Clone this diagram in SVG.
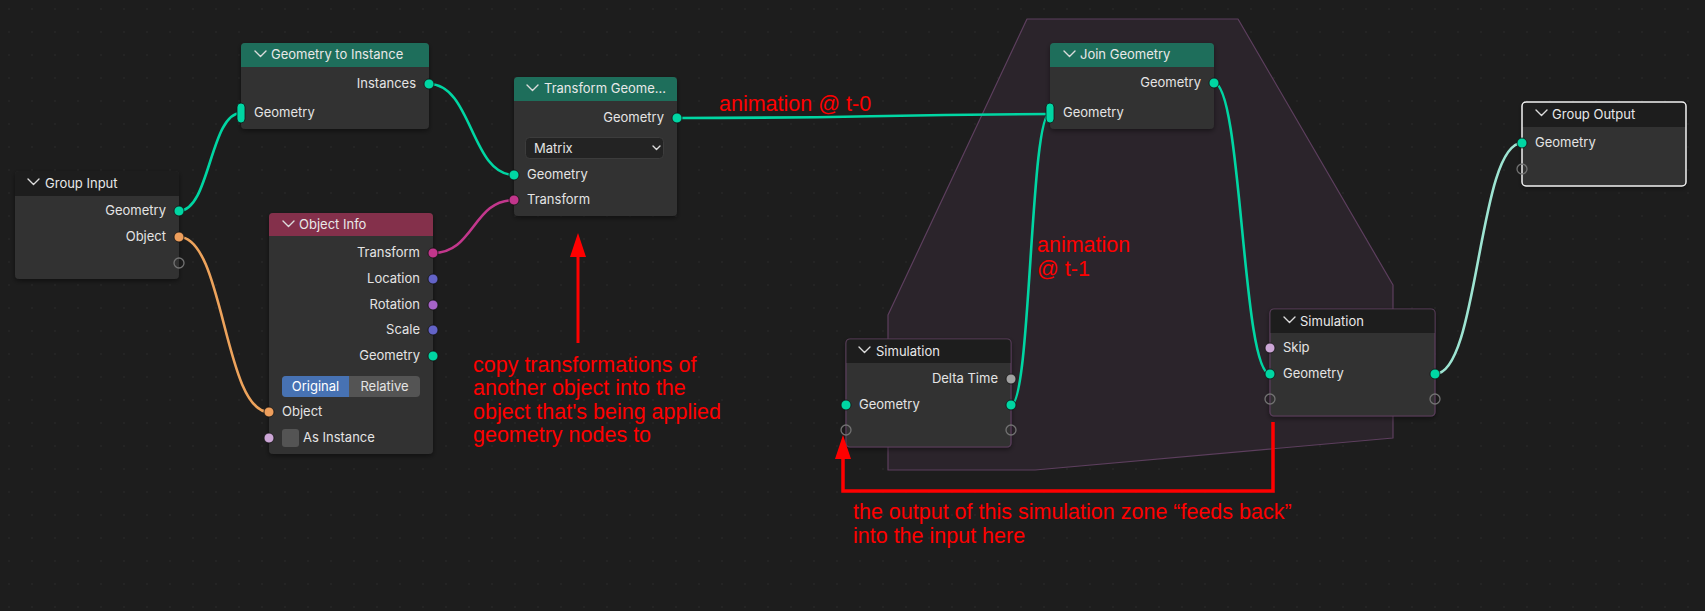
<svg xmlns="http://www.w3.org/2000/svg" width="1705" height="611" viewBox="0 0 1705 611">
<defs>
<pattern id="grid" x="8" y="8" width="23" height="23" patternUnits="userSpaceOnUse">
<circle cx="1" cy="1" r="0.9" fill="#262626"/>
</pattern>
<filter id="sh" x="-10%" y="-10%" width="120%" height="130%">
<feDropShadow dx="0" dy="2" stdDeviation="2.5" flood-color="#000" flood-opacity="0.45"/>
</filter>
</defs>
<style>
.bg{fill:#1d1d1d}
.body{fill:#303030}
.hdark{fill:#1d1d1d}
.hgeo{fill:#1e6e5b}
.hinp{fill:#84304b}
.t{font-family:Inter,"Noto Sans","DejaVu Sans",sans-serif;font-size:13px;fill:#e4e4e4}
.tr{text-anchor:end}
.ht{font-family:Inter,"Noto Sans","DejaVu Sans",sans-serif;font-size:13px;fill:#e8e8e8}
.chev{fill:none;stroke:#dcdcdc;stroke-width:1.4;stroke-linecap:round;stroke-linejoin:round}
.sk{stroke:#111;stroke-width:0.8}
.geo{fill:#00d6a3}
.obj{fill:#ed9e5c}
.mat{fill:#c2368c}
.vec{fill:#6363c7}
.rot{fill:#a663c7}
.bool{fill:#cca6d6}
.flt{fill:#a1a1a1}
.empty{fill:none;stroke:#727272;stroke-width:1.3}
.link{fill:none;stroke-width:2.6;stroke-linecap:round}
.red{font-family:"Liberation Sans",Arial,sans-serif;font-size:21.5px;fill:#ff0000}
.zone{stroke:#5d3f5e;stroke-width:1.2}
</style>
<rect class="bg" x="0" y="0" width="1705" height="611"/>
<rect x="0" y="0" width="1705" height="611" fill="url(#grid)"/>

<!-- simulation zone frame -->
<polygon id="zone" points="1027,19 1238,19 1393,285 1393,438 1035,470 888,470 888,315" fill="#2b242b" stroke="#5d3f5e" stroke-width="1.2" stroke-linejoin="round"/>

<!-- connectors -->
<g id="connectors">
<path class="link" stroke="#00d6a3" d="M179,211 C210,211 210,113 241,113"/>
<path class="link" stroke="#eda35c" d="M179,237 C224,237 224,412 269,412"/>
<path class="link" stroke="#00d6a3" d="M429,84 C472,84 471,175 514,175"/>
<path class="link" stroke="#c2378c" d="M433,253 C474,253 473,200 514,200"/>
<path class="link" stroke="#00d6a3" d="M677,118 C860,118 860,115 1050,114"/>
<path class="link" stroke="#00d6a3" d="M1011,405 C1031,405 1030,113 1050,113"/>
<path class="link" stroke="#00d6a3" d="M1214,83 C1242,83 1242,374 1270,374"/>
<path class="link" stroke="#9de4d2" d="M1435,374 C1479,374 1478,143 1522,143"/>
</g>

<!-- Group Input -->
<g id="group-input">
<rect x="15" y="171" width="164" height="108" rx="4" class="body" filter="url(#sh)"/>
<path d="M15,196 V175 a4,4 0 0 1 4,-4 H175 a4,4 0 0 1 4,4 V196 Z" class="hdark"/>
<polyline class="chev" points="28,179 33.5,184.5 39,179"/>
<text class="ht" x="45" y="188">Group Input</text>
<text class="t tr" x="166" y="215">Geometry</text>
<text class="t tr" x="166" y="241">Object</text>
<circle cx="179" cy="211" r="5" class="geo sk"/>
<circle cx="179" cy="237" r="5" class="obj sk"/>
<circle cx="179" cy="263" r="5" class="empty"/>
</g>

<!-- Geometry to Instance -->
<g id="geometry-to-instance">
<rect x="241" y="43" width="188" height="86" rx="4" class="body" filter="url(#sh)"/>
<path d="M241,67 V47 a4,4 0 0 1 4,-4 H425 a4,4 0 0 1 4,4 V67 Z" class="hgeo"/>
<polyline class="chev" points="255,51 260.5,56.5 266,51"/>
<text class="ht" x="271" y="59">Geometry to Instance</text>
<text class="t tr" x="416" y="88">Instances</text>
<text class="t" x="254" y="117">Geometry</text>
<circle cx="429" cy="84" r="5" class="geo sk"/>
<rect x="237" y="103" width="8" height="20" rx="4" class="geo sk"/>
</g>

<!-- Object Info -->
<g id="object-info">
<rect x="269" y="213" width="164" height="241" rx="4" class="body" filter="url(#sh)"/>
<path d="M269,236 V217 a4,4 0 0 1 4,-4 H429 a4,4 0 0 1 4,4 V236 Z" class="hinp"/>
<polyline class="chev" points="283,221 288.5,226.5 294,221"/>
<text class="ht" x="299" y="229">Object Info</text>
<text class="t tr" x="420" y="257">Transform</text>
<text class="t tr" x="420" y="283">Location</text>
<text class="t tr" x="420" y="309">Rotation</text>
<text class="t tr" x="420" y="334">Scale</text>
<text class="t tr" x="420" y="360">Geometry</text>
<circle cx="433" cy="253" r="5" class="mat sk"/>
<circle cx="433" cy="279" r="5" class="vec sk"/>
<circle cx="433" cy="305" r="5" class="rot sk"/>
<circle cx="433" cy="330" r="5" class="vec sk"/>
<circle cx="433" cy="356" r="5" class="geo sk"/>
<rect x="282" y="376" width="138" height="21" rx="4" fill="#545454"/>
<path d="M349,376 H286 a4,4 0 0 0 -4,4 V393 a4,4 0 0 0 4,4 H349 Z" fill="#4772b3"/>
<text class="t" x="315.5" y="391" text-anchor="middle" fill="#ffffff" style="fill:#ffffff">Original</text>
<text class="t" x="384.5" y="391" text-anchor="middle">Relative</text>
<text class="t" x="282" y="416">Object</text>
<circle cx="269" cy="412" r="5" class="obj sk"/>
<rect x="282" y="429" width="17" height="18" rx="3" fill="#545454"/>
<text class="t" x="303" y="442">As Instance</text>
<circle cx="269" cy="438" r="5" class="bool sk"/>
</g>

<!-- Transform Geometry -->
<g id="transform-geometry">
<rect x="514" y="77" width="163" height="139" rx="4" class="body" filter="url(#sh)"/>
<path d="M514,101 V81 a4,4 0 0 1 4,-4 H673 a4,4 0 0 1 4,4 V101 Z" class="hgeo"/>
<polyline class="chev" points="527,85 532.5,90.5 538,85"/>
<text class="ht" x="544" y="93">Transform Geome…</text>
<text class="t tr" x="664" y="122">Geometry</text>
<circle cx="677" cy="118" r="5" class="geo sk"/>
<rect x="525.5" y="137.5" width="138" height="21" rx="4" fill="#232323" stroke="#3c3c3c"/>
<text class="t" x="534" y="153">Matrix</text>
<polyline class="chev" points="653,146 656.5,149.5 660,146"/>
<text class="t" x="527" y="179">Geometry</text>
<text class="t" x="527" y="204">Transform</text>
<circle cx="514" cy="175" r="5" class="geo sk"/>
<circle cx="514" cy="200" r="5" class="mat sk"/>
</g>

<!-- Join Geometry -->
<g id="join-geometry">
<rect x="1050" y="43" width="164" height="86" rx="4" class="body" filter="url(#sh)"/>
<path d="M1050,67 V47 a4,4 0 0 1 4,-4 H1210 a4,4 0 0 1 4,4 V67 Z" class="hgeo"/>
<polyline class="chev" points="1064,51 1069.5,56.5 1075,51"/>
<text class="ht" x="1080" y="59">Join Geometry</text>
<text class="t tr" x="1201" y="87">Geometry</text>
<text class="t" x="1063" y="117">Geometry</text>
<circle cx="1214" cy="83" r="5" class="geo sk"/>
<rect x="1046" y="103" width="8" height="20" rx="4" class="geo sk"/>
</g>

<!-- Simulation Input -->
<g id="simulation-input">
<rect x="846" y="339" width="165" height="108" rx="4" class="body zone" filter="url(#sh)"/>
<path d="M846.6,363 V343 a3.5,3.5 0 0 1 3.5,-3.5 H1007 a3.5,3.5 0 0 1 3.5,3.5 V363 Z" class="hdark"/>
<polyline class="chev" points="859,347 864.5,352.5 870,347"/>
<text class="ht" x="876" y="356">Simulation</text>
<text class="t tr" x="998" y="383">Delta Time</text>
<text class="t" x="859" y="409">Geometry</text>
<circle cx="1011" cy="379" r="5" class="flt sk"/>
<circle cx="846" cy="405" r="5" class="geo sk"/>
<circle cx="1011" cy="405" r="5" class="geo sk"/>
<circle cx="846" cy="430" r="5" class="empty"/>
<circle cx="1011" cy="430" r="5" class="empty"/>
</g>

<!-- Simulation Output -->
<g id="simulation-output">
<rect x="1270" y="309" width="165" height="107" rx="4" class="body zone" filter="url(#sh)"/>
<path d="M1270.6,333 V313 a3.5,3.5 0 0 1 3.5,-3.5 H1431 a3.5,3.5 0 0 1 3.5,3.5 V333 Z" class="hdark"/>
<polyline class="chev" points="1284,317 1289.5,322.5 1295,317"/>
<text class="ht" x="1300" y="326">Simulation</text>
<text class="t" x="1283" y="352">Skip</text>
<text class="t" x="1283" y="378">Geometry</text>
<circle cx="1270" cy="348" r="5" class="bool sk"/>
<circle cx="1270" cy="374" r="5" class="geo sk"/>
<circle cx="1435" cy="374" r="5" class="geo sk"/>
<circle cx="1270" cy="399" r="5" class="empty"/>
<circle cx="1435" cy="399" r="5" class="empty"/>
</g>

<!-- Group Output -->
<g id="group-output">
<rect x="1522" y="102" width="164" height="84" rx="4" class="body" filter="url(#sh)"/>
<path d="M1522,127 V106 a4,4 0 0 1 4,-4 H1682 a4,4 0 0 1 4,4 V127 Z" class="hdark"/>
<rect x="1522" y="102" width="164" height="84" rx="4" fill="none" stroke="#f2f2f2" stroke-width="1.5"/>
<polyline class="chev" points="1536,110 1541.5,115.5 1547,110"/>
<text class="ht" x="1552" y="119">Group Output</text>
<text class="t" x="1535" y="147">Geometry</text>
<circle cx="1522" cy="143" r="5" class="geo sk"/>
<circle cx="1522" cy="169" r="5" class="empty"/>
</g>

<!-- annotations -->
<g id="annotations">
<text class="red" x="719" y="111">animation @ t-0</text>
<text class="red" x="1037" y="252">animation</text>
<text class="red" x="1037" y="276">@ t-1</text>
<text class="red" x="473" y="372">copy transformations of</text>
<text class="red" x="473" y="395">another object into the</text>
<text class="red" x="473" y="419">object that's being applied</text>
<text class="red" x="473" y="442">geometry nodes to</text>
<text class="red" x="853" y="519">the output of this simulation zone “feeds back”</text>
<text class="red" x="853" y="543">into the input here</text>
<line x1="578" y1="254" x2="578" y2="343" stroke="#ff0000" stroke-width="3"/>
<polygon points="578,233 570,257 586,257" fill="#ff0000"/>
<polyline points="1273,422 1273,491 843,491 843,456" fill="none" stroke="#ff0000" stroke-width="3.5"/>
<polygon points="843,435 835,459 851,459" fill="#ff0000"/>
</g>
</svg>
